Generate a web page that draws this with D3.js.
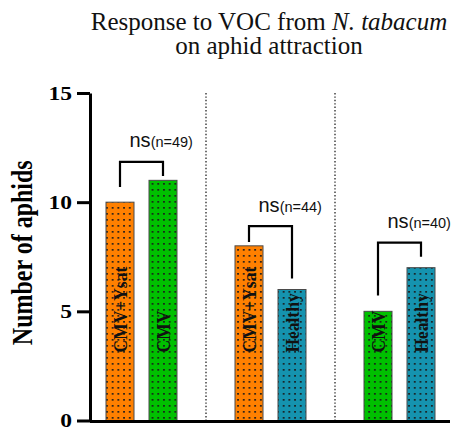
<!DOCTYPE html>
<html>
<head>
<meta charset="utf-8">
<script src="https://cdn.jsdelivr.net/npm/d3@7"></script>
<style>
  html, body { margin: 0; padding: 0; background: #fff; }
  svg { display: block; }
</style>
</head>
<body>
<div id="chart"></div>
<script>
// Aphid choice counts per VOC source, three pairwise comparisons
const categories = ["CMV+Ysat", "CMV", "CMV+Ysat", "Healthy", "CMV", "Healthy"];
const comparisonOf = [0, 0, 1, 1, 2, 2];
const aphids = [10, 11, 8, 6, 5, 7];
const yTicks = [0, 5, 10, 15];

// Bracket for each comparison: height of the bar, and where each leg stops
const bracketTop = [11.85, 8.9, 8.15];
const bracketLeftEnd = [10.7, 8.17, 5.73];
const bracketRightEnd = [11.2, 6.5, 7.5];
const significance = ["ns", "ns", "ns"];
const sampleSize = [49, 44, 40];

const colorOf = { "CMV+Ysat": "#FF8000", "CMV": "#00C000", "Healthy": "#1593AF" };

const SERIF = "Liberation Serif";
const SANS = "Liberation Sans";

const W = 452, H = 431;
const svg = d3.select("#chart").append("svg")
  .attr("width", W).attr("height", H)
  .attr("viewBox", `0 0 ${W} ${H}`);

svg.append("rect").attr("width", W).attr("height", H).attr("fill", "#fff");

// Dotted fill, one pattern per colour
const defs = svg.append("defs");
const patternId = c => "dots-" + c.replace("#", "");
Object.values(colorOf).forEach(c => {
  const p = defs.append("pattern")
    .attr("id", patternId(c))
    .attr("patternUnits", "userSpaceOnUse")
    .attr("width", 5.7).attr("height", 6)
    .attr("x", 1.5).attr("y", 1);
  p.append("rect").attr("width", 5.7).attr("height", 6).attr("fill", c);
  p.append("rect").attr("x", 2).attr("y", 2).attr("width", 1.7).attr("height", 1.7).attr("fill", "#1a1a1a");
});

// Bars sit on slots 0,1 | 3,4 | 6,7 ; separators on slots 2 and 5
const slotOf = i => i + comparisonOf[i];
const x = d3.scaleLinear().domain([0, 7]).range([120, 421]);
const y = d3.scaleLinear().domain([0, 15]).range([420.5, 93]);
const barW = 28;

// Separators between comparisons
svg.selectAll("line.sep").data([2, 5]).enter().append("line")
  .attr("class", "sep")
  .attr("x1", d => x(d)).attr("x2", d => x(d))
  .attr("y1", y(15)).attr("y2", y(0))
  .attr("stroke", "#333").attr("stroke-width", 1.4)
  .attr("stroke-dasharray", "1.4,2");

// Bars
svg.selectAll("rect.bar").data(aphids).enter().append("rect")
  .attr("class", "bar")
  .attr("x", (d, i) => x(slotOf(i)) - barW / 2)
  .attr("y", d => y(d))
  .attr("width", barW)
  .attr("height", d => y(0) - y(d))
  .attr("fill", (d, i) => `url(#${patternId(colorOf[categories[i]])})`)
  .attr("stroke", "#4a4a4a").attr("stroke-width", 1);

// Category names written up the bars
svg.selectAll("text.cat").data(categories).enter().append("text")
  .attr("class", "cat")
  .attr("transform", (d, i) => `translate(${x(slotOf(i))},${y(0) - 68}) scale(1.13,1) rotate(-90)`)
  .attr("dy", "0.33em")
  .attr("text-anchor", "start")
  .style("font-family", SERIF)
  .attr("font-weight", "bold")
  .attr("font-size", 17.5)
  .attr("fill", "#111")
  .text(d => d);

// Y axis
const yAxis = d3.axisLeft(y).tickValues(yTicks).tickSize(13).tickSizeOuter(0).tickFormat(d3.format("d"));
const gy = svg.append("g").attr("transform", `translate(90,0)`).call(yAxis);
gy.select(".domain").attr("stroke", "#000").attr("stroke-width", 3);
gy.selectAll(".tick line").attr("stroke", "#000").attr("stroke-width", 3);
gy.selectAll(".tick text").each(function() {
  d3.select(this)
    .attr("x", null)
    .attr("transform", "translate(-18,0) scale(1.24,1)")
    .attr("dy", "0.34em")
    .attr("text-anchor", "end")
    .style("font-family", SERIF)
    .attr("font-weight", "bold")
    .attr("font-size", 19)
    .attr("fill", "#000");
});

// Baseline
svg.append("line")
  .attr("x1", 90).attr("x2", 450)
  .attr("y1", y(0) + 1).attr("y2", y(0) + 1)
  .attr("stroke", "#000").attr("stroke-width", 3);

// Y axis title
svg.append("text")
  .attr("transform", `translate(32,${(y(0) + y(15)) / 2 - 4}) scale(1.22,1) rotate(-90)`)
  .attr("text-anchor", "middle")
  .style("font-family", SERIF)
  .attr("font-weight", "bold")
  .attr("font-size", 24)
  .attr("fill", "#000")
  .text("Number of aphids");

// Comparison brackets with significance labels
const comps = d3.range(bracketTop.length);
const legX = (c, side) => x(slotOf(comparisonOf.indexOf(c) + side));
svg.selectAll("path.bracket").data(comps).enter().append("path")
  .attr("class", "bracket")
  .attr("d", c => {
    const xl = legX(c, 0), xr = legX(c, 1);
    return `M${xl},${y(bracketLeftEnd[c])}V${y(bracketTop[c])}H${xr}V${y(bracketRightEnd[c])}`;
  })
  .attr("fill", "none").attr("stroke", "#000").attr("stroke-width", 2.2);

const lab = svg.selectAll("text.sig").data(comps).enter().append("text")
  .attr("class", "sig")
  .attr("x", c => (legX(c, 0) + legX(c, 1)) / 2 - 12)
  .attr("y", c => y(bracketTop[c]) - 14.5)
  .style("font-family", SANS)
  .attr("fill", "#111");
lab.append("tspan").attr("font-size", 20).text(c => significance[c]);
lab.append("tspan").attr("font-size", 14.5).text(c => `(n=${sampleSize[c]})`);

// Title, two lines
const titleStyle = sel => sel
  .attr("text-anchor", "middle")
  .style("font-family", SERIF)
  .attr("font-size", 25)
  .attr("fill", "#111");
const t1 = svg.append("text").attr("x", 269).attr("y", 30).call(titleStyle);
t1.append("tspan").text("Response to VOC from ");
t1.append("tspan").attr("font-style", "italic").text("N. tabacum");
svg.append("text").attr("x", 269).attr("y", 54).call(titleStyle).text("on aphid attraction");
</script>
</body>
</html>
